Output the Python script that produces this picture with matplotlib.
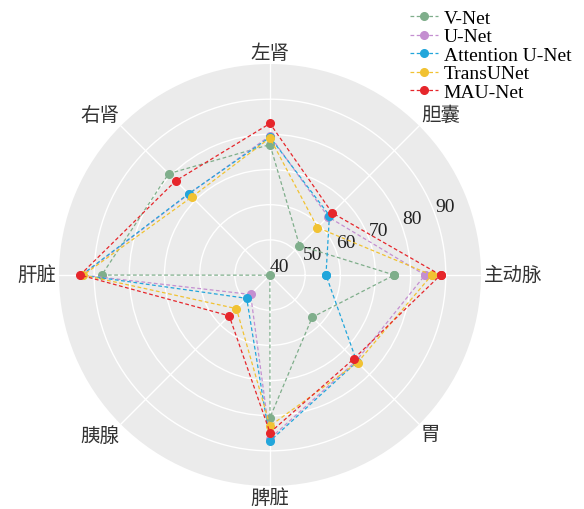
import numpy as np
import matplotlib
matplotlib.use("Agg")
import matplotlib.pyplot as plt

plt.rcParams['font.family'] = ['Liberation Serif', 'Noto Sans CJK SC', 'DejaVu Sans']

# Organ categories (counter-clockwise from the right)
organs = ['主动脉', '胆囊', '左肾', '右肾', '肝脏', '胰腺', '脾脏', '胃']

# Dice scores (%) per model
vnet = [75.34, 51.87, 77.10, 80.75, 87.84, 40.05, 80.56, 56.98]
unet = [84.1, 63.4, 79.6, 72.6, 93.4, 47.8, 86.5, 74.6]
attn_unet = [55.92, 63.91, 79.20, 72.71, 93.56, 49.37, 87.19, 74.95]
transunet = [86.0, 59.1, 79.0, 71.4, 93.1, 53.5, 82.9, 75.2]
mau_net = [88.5, 65.0, 83.1, 77.9, 94.0, 56.4, 84.8, 73.7]

models = ['V-Net', 'U-Net', 'Attention U-Net', 'TransUNet', 'MAU-Net']
series = [vnet, unet, attn_unet, transunet, mau_net]
colors = ['#7fae8b', '#c48fd0', '#22a6db', '#f1c232', '#e6262b']

r_ticks = [40, 50, 60, 70, 80, 90]
r_limits = (40, 100)

fig = plt.figure(figsize=(5.84, 5.10), dpi=100)
ax = fig.add_axes([0.101, 0.045, 0.7226, 0.8275], projection='polar')
ax.set_facecolor('#ebebeb')

angles = np.linspace(0, 2 * np.pi, len(organs), endpoint=False)
angles_closed = np.concatenate([angles, angles[:1]])

for name, vals, col in zip(models, series, colors):
    v = np.array(vals + vals[:1])
    ax.plot(angles_closed, v, linestyle='--', linewidth=0.9, color=col,
            marker='o', markersize=5.5, label=name, dashes=(3, 2))

ax.set_ylim(*r_limits)
ax.set_yticks(r_ticks)
ax.set_yticklabels([str(t) for t in r_ticks], fontsize=14, color='#222222')
ax.set_rlabel_position(20)
ax.set_xticks(angles)
ax.set_xticklabels([])
ax.grid(True, color='white', linewidth=1.0)
ax.spines['polar'].set_visible(False)

# Category labels just outside the outer ring, aligned away from the centre
pad = 1.8
for ang, name in zip(angles, organs):
    c, s = np.cos(ang), np.sin(ang)
    ha = 'left' if c > 0.1 else ('right' if c < -0.1 else 'center')
    va = 'bottom' if s > 0.1 else ('top' if s < -0.1 else 'center')
    ax.annotate(name, xy=(ang, r_limits[1]), xytext=(pad * c, pad * s),
                textcoords='offset points', ha=ha, va=va, fontsize=14,
                color='#333333', annotation_clip=False)

fig.legend(loc='upper right', bbox_to_anchor=(0.998, 1.003), frameon=False,
           fontsize=14, handlelength=1.4, handletextpad=0.3,
           labelspacing=0.05, borderaxespad=0.2)

fig.savefig('out.png', dpi=100)
